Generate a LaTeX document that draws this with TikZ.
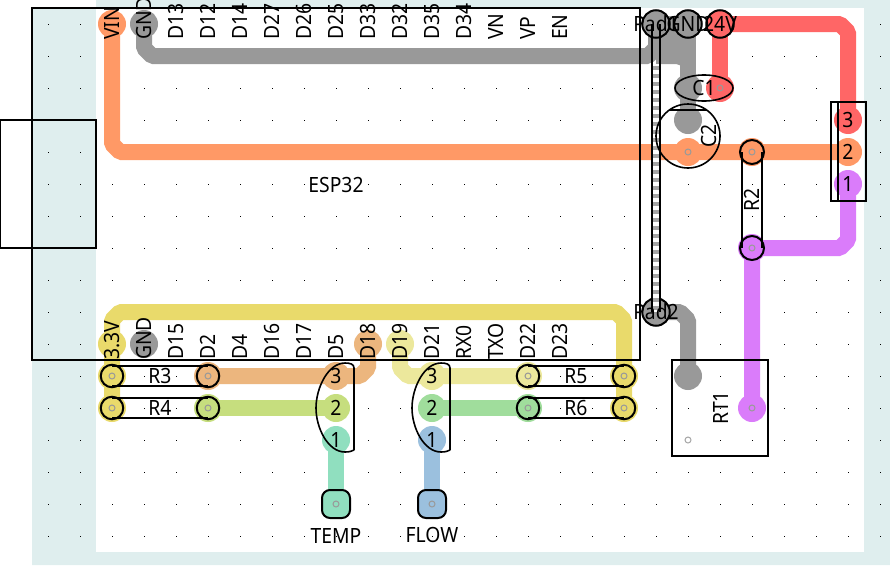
\documentclass[tikz,border=0pt]{standalone}
\usepackage{fontspec}
\setmainfont[FakeStretch=0.92]{Noto Sans}
\pgfdeclarelayer{under}
\pgfsetlayers{under,main}
\definecolor{boardteal}{HTML}{DFEEEE}
\definecolor{cOrange}{HTML}{FF9966}
\definecolor{cGray}{HTML}{999999}
\definecolor{cRed}{HTML}{FF6666}
\definecolor{cPurple}{HTML}{DA7CFA}
\definecolor{cYellow}{HTML}{E9DA6B}
\definecolor{cTan}{HTML}{ECB67E}
\definecolor{cPale}{HTML}{ECE89C}
\definecolor{cLime}{HTML}{C6DE7E}
\definecolor{cGreen}{HTML}{A0DD9C}
\definecolor{cTeal}{HTML}{90DFBF}
\definecolor{cBlue}{HTML}{9BC0DE}
\tikzset{
  trace/.style={line width=16pt,draw=#1,line join=bevel,line cap=butt},
  pad/.style={circle,fill=#1,minimum size=28pt,inner sep=0pt,font=\fontsize{21}{21}\selectfont},
  opad/.style={pad=#1,draw=black,line width=2pt,minimum size=27.5pt},
  spad/.style={rounded corners=8pt,rectangle,fill=#1,draw=black,line width=2pt,minimum size=28pt,inner sep=0pt},
  term/.style={circle,draw=black,line width=2pt,minimum size=22.5pt,inner sep=0pt},
  hole/.style={circle,draw=black!40,line width=1pt,minimum size=6pt,inner sep=0pt},
  box/.style={draw=black,line width=2pt},
  body/.style={draw=black,line width=1.5pt},
  lbl/.style={font=\fontsize{21}{21}\selectfont,inner sep=0pt},
  pinup/.style={lbl,rotate=90,anchor=west},
  part/.style={draw=black,line width=1.6pt},
}
\newcommand{\jhousing}[1]{\draw[part] (#1+18,450) -- (#1+18,368) .. controls (#1+18,364) and (#1+14,363) .. (#1+9,363) .. controls (#1-8,363) and (#1-20,388) .. (#1-20,408) .. controls (#1-20,428) and (#1-8,452) .. (#1+9,452) .. controls (#1+14,452) and (#1+16,451) .. (#1+18,450);}
\begin{document}
\begin{tikzpicture}[x=1pt,y=-1pt]
\useasboundingbox (0,0) rectangle (890,565);

% pads
\node[pad=cOrange] (vin) at (112,24) {};
\node[pad=cGray] (gndt) at (144,24) {};
\node[pad=cYellow] (v33) at (112,344) {};
\node[pad=cGray] (gndb) at (144,344) {};
\node[pad=cTan] (d18) at (368,344) {};
\node[pad=cPale] (d19) at (400,344) {};
\node[opad=cGray] (pad1) at (656,24) {};
\node[opad=cGray] (gndp) at (688,24) {};
\node[opad=cRed] (p24) at (720,24) {};
\node[opad=cGray] (pad2) at (656,312) {};
\node[pad=cGray] (c1a) at (688,88) {};
\node[pad=cRed] (c1b) at (720,88) {};
\node[pad=cGray] (c2a) at (688,120) {};
\node[pad=cOrange] (c2b) at (688,152) {};
\node[pad=cRed] (j3) at (848,120) {3};
\node[pad=cOrange] (j2) at (848,152) {2};
\node[pad=cPurple] (j1) at (848,184) {1};
\node[pad=cOrange] (r2a) at (752,152) {};
\node[pad=cPurple] (r2b) at (752,248) {};
\node[pad=cGray] (rta) at (688,376) {};
\node[pad=cPurple] (rtb) at (752,408) {};
\node[pad=cYellow] (r3a) at (112,376) {};
\node[pad=cTan] (r3b) at (208,376) {};
\node[pad=cYellow] (r4a) at (112,408) {};
\node[pad=cLime] (r4b) at (208,408) {};
\node[pad=cGreen] (r6a) at (528,408) {};
\node[pad=cYellow] (r6b) at (624,408) {};
\node[pad=cPale] (r5a) at (528,376) {};
\node[pad=cYellow] (r5b) at (624,376) {};
\node[pad=cTan] (a3) at (336,376) {3};
\node[pad=cLime] (a2) at (336,408) {2};
\node[pad=cTeal] (a1) at (336,440) {1};
\node[pad=cPale] (b3) at (432,376) {3};
\node[pad=cGreen] (b2) at (432,408) {2};
\node[pad=cBlue] (b1) at (432,440) {1};
\node[spad=cTeal] (temp) at (336,504) {};
\node[spad=cBlue] (flow) at (432,504) {};

\begin{pgfonlayer}{under}
  % board
  \fill[white] (0,0) rectangle (890,565);
  \fill[boardteal] (96,0) -- (890,0) -- (890,565) -- (32,565) -- (32,8) -- (96,8) -- cycle;
  \fill[white] (96,8) rectangle (864,552);
  % grid
  \foreach \gx in {48,80,...,880}
    \foreach \gy in {24,56,...,536}
      \fill[black] (\gx-0.5,\gy-0.5) rectangle (\gx+0.5,\gy+0.5);
  \fill[white] (97,9) rectangle (576,72);
  \fill[white] (97,328) rectangle (576,360);
  % traces
  \draw[trace=cOrange] (vin.center) -- (112,144) -- (120,152) -- (j2.center);
  \draw[trace=cGray] (gndt.center) -- (144,48) -- (152,56) -- (648,56) -- (656,48) -- (pad1.center);
  \draw[trace=cGray] (pad1.center) -- (gndp.center) -- (c2a.center);
  \fill[cGray] (656,24) -- (688,24) -- (688,68) -- (676,64) -- (656,64) -- cycle;
  \draw[trace=cRed] (p24.center) -- (840,24) -- (848,32) -- (j3.center);
  \draw[trace=cRed] (p24.center) -- (c1b.center);
  \draw[trace=cPurple] (j1.center) -- (848,240) -- (840,248) -- (r2b.center) -- (rtb.center);
  \draw[trace=cYellow] (r4a.center) -- (v33.center) -- (112,320) -- (120,312) -- (616,312) -- (624,320) -- (r6b.center);
  \draw[trace=cTan] (r3b.center) -- (360,376) -- (368,368) -- (d18.center);
  \draw[trace=cPale] (d19.center) -- (400,368) -- (408,376) -- (r5a.center);
  \draw[trace=cLime] (r4b.center) -- (a2.center);
  \draw[trace=cGreen] (b2.center) -- (r6a.center);
  \draw[trace=cTeal] (a1.center) -- (temp.center);
  \draw[trace=cBlue] (b1.center) -- (flow.center);
  \draw[trace=cGray] (pad2.center) -- (680,312) -- (688,320) -- (rta.center);
\end{pgfonlayer}

% drill holes
\foreach \h in {c1a,c1b,c2a,c2b,r2a,r2b,rta,rtb,r3a,r3b,r4a,r4b,r5a,r5b,r6a,r6b,temp,flow}
  \node[hole] at (\h.center) {};
\node[hole,draw=black!35,fill=white] (rtc) at (688,440) {};

% Pad1 to Pad2 link
\fill[white] (652,64) rectangle (660,312);
\draw[line width=8pt,draw=black!35,dash pattern=on 4pt off 4pt] (656,66) -- (pad2.center);
\draw[black,line width=1.7pt] (652,24) -- (652,312);
\draw[black,line width=1.7pt] (660,24) -- (660,312);

% resistor bodies and terminals
\draw[body] (112,366) -- (208,366) (112,386) -- (208,386);
\draw[body] (112,398) -- (208,398) (112,418) -- (208,418);
\draw[body] (528,366) -- (624,366) (528,386) -- (624,386);
\draw[body] (528,398) -- (624,398) (528,418) -- (624,418);
\draw[body] (742,152) -- (742,248) (762,152) -- (762,248);
\foreach \t in {r3a,r3b,r4a,r4b,r5a,r5b,r6a,r6b}
  \node[term] at (\t.center) {};
\foreach \t in {r2a,r2b}
  \node[term,minimum size=24pt] at (\t.center) {};

% board outlines
\draw[box] (32,8) rectangle (640,360);
\draw[box] (0,120) rectangle (96,248);
\draw[box] (672,360) rectangle (768,456);
\draw[box] (831,102) rectangle (866,201);
\draw[box] (838,102) -- (838,201);

% capacitors and connector housings
\draw[part] (704,88) ellipse [x radius=29,y radius=13];
\draw[part] (688,136) circle [radius=32];
\draw[part] (669,110) -- (707,110);
\jhousing{336}
\jhousing{432}

% texts
\node[lbl] (esp) at (336,185) {ESP32};
\foreach \n/\px in {VIN/112,GND/144,D13/176,D12/208,D14/240,D27/272,D26/304,D25/336,D33/368,D32/400,D35/432,D34/464,VN/496,VP/528,EN/560}
  \node[pinup] at (\px,40) {\n};
\foreach \n/\px in {3.3V/112,GND/144,D15/176,D2/208,D4/240,D16/272,D17/304,D5/336,D18/368,D19/400,D21/432,RX0/464,TXO/496,D22/528,D23/560}
  \node[pinup] at (\px,360) {\n};
\node[lbl] at (656,24) {Pad1};
\node[lbl] at (688,24) {GND};
\node[lbl] at (720,24) {24V};
\node[lbl] at (656,312) {Pad2};
\node[lbl] at (704,88) {C1};
\node[lbl,rotate=90] at (709,136) {C2};
\node[lbl,rotate=90] at (752,200) {R2};
\node[lbl,rotate=90] at (721,408) {RT1};
\node[lbl] at (160,376) {R3};
\node[lbl] at (160,408) {R4};
\node[lbl] at (576,376) {R5};
\node[lbl] at (576,408) {R6};
\node[lbl] at (336,536) {TEMP};
\node[lbl] at (432,535) {FLOW};
\end{tikzpicture}
\end{document}
